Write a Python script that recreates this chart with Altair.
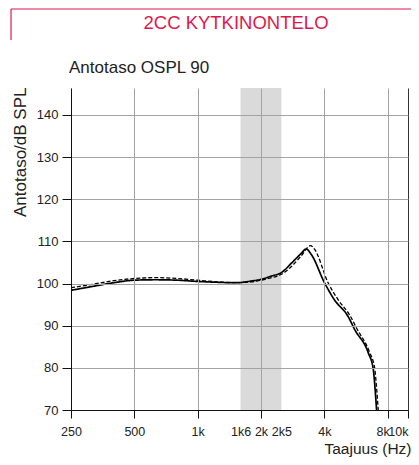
import altair as alt
import pandas as pd

# ---------------- data ----------------
title_text = "2CC KYTKINONTELO"
subtitle_text = "Antotaso OSPL 90"
y_title = "Antotaso/dB SPL"
x_title = "Taajuus (Hz)"

freq_solid = [250, 315, 400, 500, 630, 800, 1000, 1250, 1500, 1800, 2000, 2250, 2500,
              2800, 3100, 3280, 3470, 4000, 4460, 5190, 5580, 6470, 6840, 6960, 7090]
spl_solid = [98.4, 99.3, 100.2, 100.8, 100.9, 100.8, 100.5, 100.3, 100.2, 100.6, 101.0, 101.8, 102.6,
             104.9, 107.1, 108.2, 106.9, 100.3, 96.2, 92.2, 89.1, 83.6, 79.6, 75.6, 70.0]

freq_dashed = [250, 315, 400, 500, 630, 800, 1000, 1250, 1500, 1800, 2000, 2250, 2500,
               2800, 3100, 3440, 3600, 4170, 4650, 5300, 5700, 6550, 6950, 7080, 7220]
spl_dashed = [99.0, 99.8, 100.7, 101.2, 101.4, 101.2, 100.8, 100.4, 100.2, 100.4, 100.8, 101.4, 102.2,
              104.1, 106.5, 109.0, 108.1, 100.2, 96.2, 92.4, 89.4, 83.8, 79.8, 75.6, 70.0]

band_start = [1600]
band_end = [2500]

x_ticks = [250, 500, 1000, 1600, 2000, 2500, 4000, 8000, 10000]
x_labels = ["250", "500", "1k", "1k6", "2k", "2k5", "4k", "8k", "10k"]
x_no_grid = [1600, 2500]
y_ticks = [70, 80, 90, 100, 110, 120, 130, 140]

# ---------------- chart ----------------
W, H = 337, 322
RED = "#E0184E"
GRID = "#a3a3a3"
LABEL_FONT = "Liberation Sans"

label_expr = " : ".join(
    f"datum.value == {v} ? '{l}'" for v, l in zip(x_ticks, x_labels)
) + " : ''"
no_grid_test = " || ".join(f"datum.value == {v}" for v in x_no_grid)

df_lines = pd.DataFrame({
    "f": freq_solid + freq_dashed,
    "spl": spl_solid + spl_dashed,
    "series": ["solid"] * len(freq_solid) + ["dashed"] * len(freq_dashed),
})
df_band = pd.DataFrame({"f1": band_start, "f2": band_end})

x_scale = alt.Scale(type="log", domain=[250, 10000], nice=False)
y_scale = alt.Scale(domain=[70, 146.4], nice=False, zero=False)

x_axis = alt.Axis(
    values=x_ticks, labelExpr=label_expr, labelOverlap=False, labelFlush=False,
    grid=True, gridColor={"condition": {"test": "datum.value == 10000", "value": "#333333"}, "value": GRID},
    gridOpacity={"condition": {"test": no_grid_test, "value": 0}, "value": 1},
    tickOpacity={"condition": {"test": no_grid_test, "value": 0}, "value": 1},
    labelAlign={"condition": {"test": "datum.value == 10000", "value": "right"}, "value": "center"},
    labelOffset={"condition": {"test": "datum.value == 8000", "value": -5}, "value": 0},
    tickSize=8, tickColor="#111", domainColor="#111",
    labelFont=LABEL_FONT, labelFontSize=12.5, labelColor="#222",
    labelPadding=7,
    title=x_title, titleFont="Liberation Sans", titleFontSize=15.5, titleFontWeight="normal",
    titleColor="#222", titleX=340, titleY=43, titleAlign="right", titleBaseline="alphabetic",
    zindex=1,
)
y_axis = alt.Axis(
    values=y_ticks, grid=True, gridColor=GRID,
    tickSize=9, tickColor="#111", domainColor="#111",
    labelFont=LABEL_FONT, labelFontSize=13, labelColor="#222",
    labelPadding=4,
    title=y_title, titleFont="Liberation Sans", titleFontSize=17, titleFontWeight="normal",
    titleColor="#222", titleX=-46, titleY=-1, titleAngle=270, titleAlign="right",
    titleBaseline="alphabetic",
    zindex=1,
)

band = alt.Chart(df_band).mark_rect(color="#d9dad9").encode(
    x=alt.X("f1:Q", scale=x_scale, axis=x_axis),
    x2="f2:Q",
    y=alt.value(0),
    y2=alt.value(H),
)

lines = alt.Chart(df_lines).mark_line(interpolate="monotone", color="#000").encode(
    x=alt.X("f:Q", scale=x_scale),
    y=alt.Y("spl:Q", scale=y_scale, axis=y_axis),
    detail="series:N",
    strokeDash=alt.StrokeDash("series:N", scale=alt.Scale(domain=["solid", "dashed"], range=[[1, 0], [4, 2]]), legend=None),
    strokeWidth=alt.StrokeWidth("series:N", scale=alt.Scale(domain=["solid", "dashed"], range=[1.7, 1.3]), legend=None),
)

df_title = pd.DataFrame({"t": [title_text]})
title = alt.Chart(df_title).mark_text(
    font="Liberation Sans", fontSize=18.5, color=RED, align="center", baseline="alphabetic"
).encode(x=alt.value(165), y=alt.value(-59), text="t:N")

df_sub = pd.DataFrame({"t": [subtitle_text]})
subtitle = alt.Chart(df_sub).mark_text(
    font="Liberation Sans", fontSize=17, color="#222", align="left", baseline="alphabetic"
).encode(x=alt.value(-2), y=alt.value(-15), text="t:N")

frame_top = alt.Chart(df_title).mark_rule(color=RED, strokeWidth=1.2).encode(
    x=alt.value(-60), x2=alt.value(345), y=alt.value(-79)
)
frame_left = alt.Chart(df_title).mark_rule(color=RED, strokeWidth=1.2).encode(
    x=alt.value(-60), y=alt.value(-79), y2=alt.value(-48)
)

chart = alt.layer(band, lines, title, subtitle, frame_top, frame_left).properties(
    width=W, height=H,
    autosize="none",
    padding={"left": 63, "top": 80, "right": 3, "bottom": 47},
).configure_view(stroke=None)

chart.save("out.html", embed_options={"renderer": "svg", "actions": False})
